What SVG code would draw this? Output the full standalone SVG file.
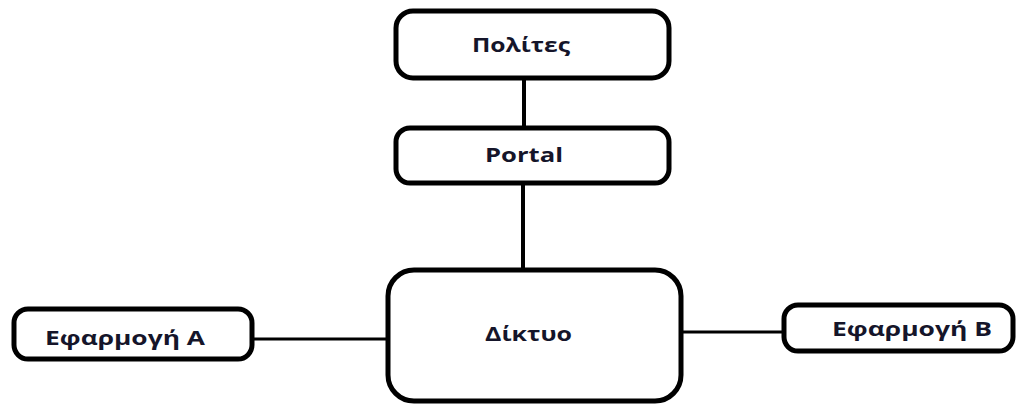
<svg xmlns="http://www.w3.org/2000/svg" width="1018" height="405" viewBox="0 0 1018 405">
<style>
.box{fill:#fff;stroke:#000;stroke-width:5}
.lbl{font-family:"Open Sans","DejaVu Sans",sans-serif;font-weight:bold;font-size:19px;fill:#15152a}
.ln{stroke:#000;fill:none}
</style>
<rect width="1018" height="405" fill="#fff"/>
<g id="connectors">
<line class="ln" x1="524" y1="79" x2="524" y2="127" stroke-width="4"/>
<line class="ln" x1="523" y1="185" x2="523" y2="268" stroke-width="4"/>
<line class="ln" x1="253" y1="339" x2="386" y2="339" stroke-width="3"/>
<line class="ln" x1="683" y1="332" x2="783" y2="332" stroke-width="3"/>
</g>
<g id="node-polites">
<rect class="box" x="396" y="11" width="273" height="67" rx="17"/>
<text class="lbl" x="472" y="52" textLength="98" lengthAdjust="spacingAndGlyphs">Πολίτες</text>
</g>
<g id="node-portal">
<rect class="box" x="396" y="128" width="273" height="55" rx="14"/>
<text class="lbl" x="485" y="162" textLength="78" lengthAdjust="spacingAndGlyphs">Portal</text>
</g>
<g id="node-diktyo">
<rect class="box" x="388" y="270" width="293" height="131" rx="26" stroke-width="6"/>
<text class="lbl" x="485" y="341" textLength="87" lengthAdjust="spacingAndGlyphs">Δίκτυο</text>
</g>
<g id="node-efarmogi-a">
<rect class="box" x="14" y="309" width="238" height="50" rx="14"/>
<text class="lbl" x="45" y="345" textLength="160" lengthAdjust="spacingAndGlyphs">Εφαρμογή A</text>
</g>
<g id="node-efarmogi-b">
<rect class="box" x="784" y="305" width="229" height="46" rx="14" stroke-width="3.5"/>
<text class="lbl" x="832" y="336" textLength="160" lengthAdjust="spacingAndGlyphs">Εφαρμογή B</text>
</g>
</svg>
